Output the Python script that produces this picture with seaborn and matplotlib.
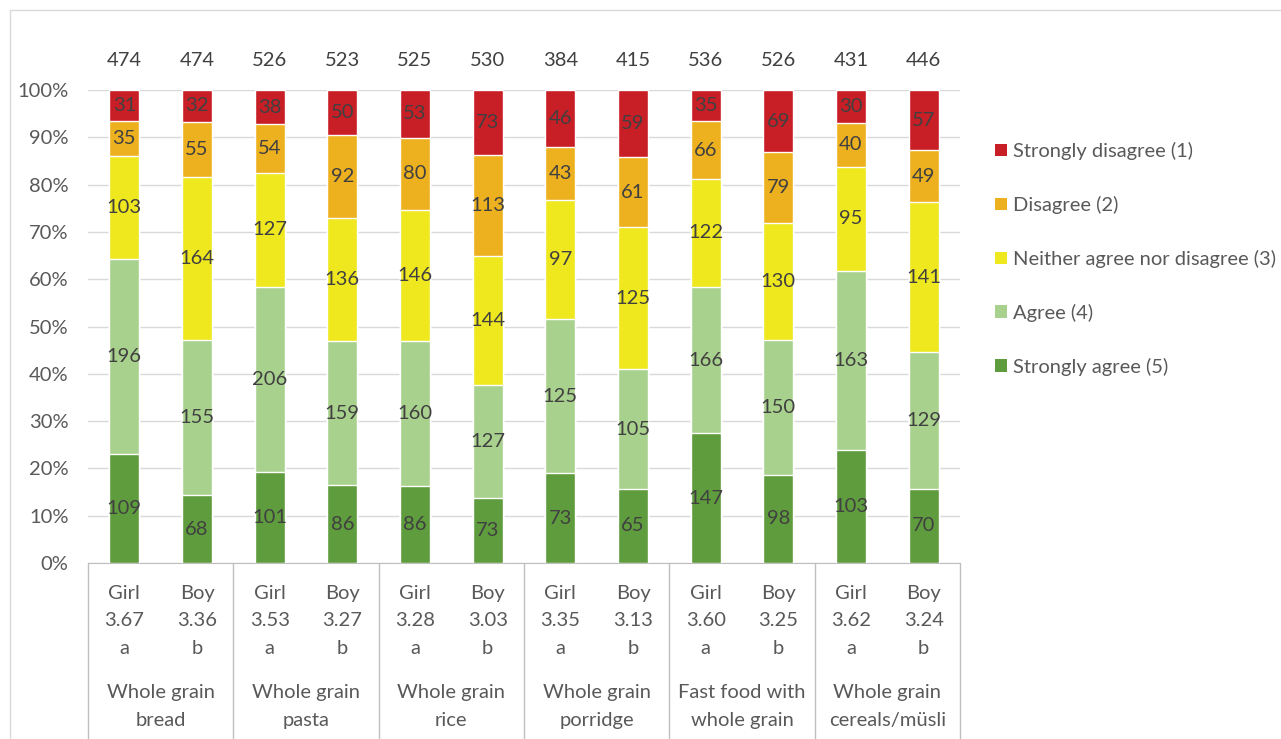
import seaborn as sns
import matplotlib.pyplot as plt
import matplotlib.transforms as mtransforms
from matplotlib.patches import Patch
from matplotlib.lines import Line2D
import pandas as pd

groups = ["Whole grain\nbread", "Whole grain\npasta", "Whole grain\nrice",
          "Whole grain\nporridge", "Fast food with\nwhole grain", "Whole grain\ncereals/müsli"]
genders = ["Girl", "Boy"] * 6
means = ["3.67", "3.36", "3.53", "3.27", "3.28", "3.03",
         "3.35", "3.13", "3.60", "3.25", "3.62", "3.24"]
letters = ["a", "b"] * 6

strongly_agree = [109, 68, 101, 86, 86, 73, 73, 65, 147, 98, 103, 70]
agree = [196, 155, 206, 159, 160, 127, 125, 105, 166, 150, 163, 129]
neither = [103, 164, 127, 136, 146, 144, 97, 125, 122, 130, 95, 141]
disagree = [35, 55, 54, 92, 80, 113, 43, 61, 66, 79, 40, 49]
strongly_disagree = [31, 32, 38, 50, 53, 73, 46, 59, 35, 69, 30, 57]

levels = ["Strongly agree (5)", "Agree (4)", "Neither agree nor disagree (3)",
          "Disagree (2)", "Strongly disagree (1)"]
counts = [strongly_agree, agree, neither, disagree, strongly_disagree]
colors = ["#5E9C3E", "#A9D18E", "#F0E81E", "#EDB11F", "#C81E26"]

rows = []
for lev, vals in zip(levels, counts):
    for i, v in enumerate(vals):
        rows.append({"bar": i, "level": lev, "n": v})
df = pd.DataFrame(rows)
df["total"] = df.groupby("bar")["n"].transform("sum")
df["pct"] = df["n"] / df["total"] * 100
df["cum"] = df.groupby("bar")["pct"].cumsum()

sns.set_style("white")
plt.rcParams["font.family"] = ["Lato", "DejaVu Sans"]
txt = "#595959"
fs = 14.5

fig = plt.figure(figsize=(12.81, 7.39), dpi=100)
ax = fig.add_axes([88 / 1281, 1 - 563 / 739, 872 / 1281, 473 / 739])

# draw from top layer down so lower layers cover the cumulative bars
for lev, col in reversed(list(zip(levels, colors))):
    sub = df[df["level"] == lev]
    sns.barplot(data=sub, x="bar", y="cum", color=col, width=0.41,
                errorbar=None, saturation=1, ax=ax, zorder=3)

for _, r in df.iterrows():
    ax.text(r["bar"], r["cum"] - r["pct"] / 2, f"{r['n']}", ha="center", va="center",
            fontsize=fs, color="#404040", zorder=4)

totals = df.groupby("bar")["total"].first()
for i, t in totals.items():
    ax.text(i, 106.3, str(t), ha="center", va="center", fontsize=fs, color="#404040")

ax.set_xlim(-0.5, 11.5)
ax.set_ylim(0, 100)
ax.set_yticks(range(0, 101, 10))
ax.set_yticklabels([f"{v}%" for v in range(0, 101, 10)])
ax.yaxis.grid(True, color="#D9D9D9", lw=1, zorder=0)
ax.set_axisbelow(True)
ax.set_xticks(range(12))
ax.set_xticklabels([f"{g}\n{m}\n{l}" for g, m, l in zip(genders, means, letters)],
                   linespacing=1.78)
ax.tick_params(axis="both", length=0, labelsize=fs, labelcolor=txt)
ax.tick_params(axis="x", pad=15.5)
ax.tick_params(axis="y", pad=14)
ax.set_xlabel("")
ax.set_ylabel("")
for s in ["left", "right", "top"]:
    ax.spines[s].set_visible(False)
ax.spines["bottom"].set_color("#BFBFBF")

trans = mtransforms.blended_transform_factory(ax.transData, ax.transAxes)
for k in range(7):
    x = -0.5 + 2 * k
    ax.add_line(Line2D([x, x], [0, -0.4], transform=trans, color="#BFBFBF",
                       lw=1, clip_on=False))
for k, g in enumerate(groups):
    ax.text(0.5 + 2 * k, -0.256, g, transform=trans, ha="center", va="top",
            fontsize=fs, color=txt, linespacing=1.78)

handles = [Patch(facecolor=c, edgecolor="none") for c in reversed(colors)]
fig.legend(handles, list(reversed(levels)), loc="upper left",
           bbox_to_anchor=(977 / 1281, 1 - 124 / 739), frameon=False,
           fontsize=fs, labelcolor=txt, labelspacing=1.78,
           handlelength=0.6, handleheight=0.6, handletextpad=0.3)

# chart area border (top and left)
fig.add_artist(Line2D([10 / 1281, 1], [1 - 10 / 739, 1 - 10 / 739],
                      transform=fig.transFigure, color="#D9D9D9", lw=1))
fig.add_artist(Line2D([10 / 1281, 10 / 1281], [0, 1 - 10 / 739],
                      transform=fig.transFigure, color="#D9D9D9", lw=1))

fig.savefig("out.png", dpi=100)
